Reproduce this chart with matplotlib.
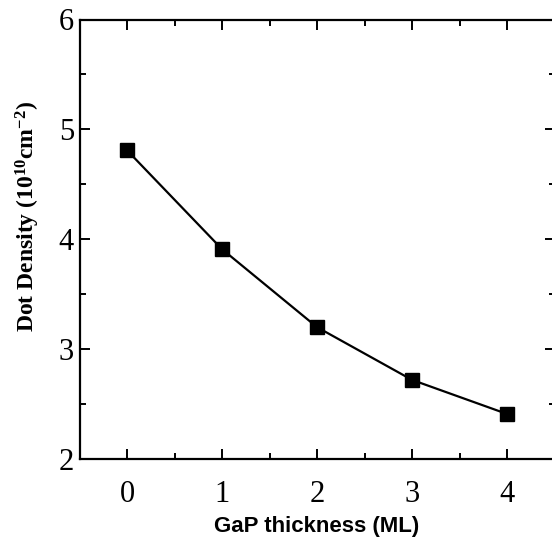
import matplotlib
matplotlib.use("Agg")
from matplotlib import pyplot as plt
from matplotlib.ticker import MultipleLocator

# data
gap_thickness = [0, 1, 2, 3, 4]          # ML
dot_density = [4.81, 3.91, 3.20, 2.72, 2.41]  # 10^10 cm^-2

x_ticks = [0, 1, 2, 3, 4]
y_ticks = [2, 3, 4, 5, 6]

plt.rcParams["mathtext.fontset"] = "custom"
plt.rcParams["mathtext.rm"] = "Liberation Serif:bold"
plt.rcParams["mathtext.default"] = "rm"

fig = plt.figure(figsize=(5.52, 5.49), dpi=100)
# right spine runs just past the picture edge, as in the scan
ax = fig.add_axes([79.5 / 552, 90 / 549, 475 / 552, 439.5 / 549])

ax.plot(gap_thickness, dot_density, color="black", lw=1.6,
        marker="s", markersize=10.3, markerfacecolor="black",
        markeredgecolor="black")

ax.set_xlim(-0.5, 4.5)
ax.set_ylim(2, 6)
ax.set_xticks(x_ticks)
ax.set_yticks(y_ticks)
ax.xaxis.set_minor_locator(MultipleLocator(0.5))
ax.yaxis.set_minor_locator(MultipleLocator(0.5))

for s in ax.spines.values():
    s.set_linewidth(1.6)

ax.tick_params(which="both", direction="in", top=True, right=True, width=1.4)
ax.tick_params(which="major", length=7)
ax.tick_params(which="minor", length=4)
ax.tick_params(axis="x", which="major", pad=15)
ax.tick_params(axis="y", which="major", pad=4)

for lab in ax.get_xticklabels() + ax.get_yticklabels():
    lab.set_fontfamily("Liberation Serif")
    lab.set_fontsize(22)

ax.set_xlabel("GaP thickness (ML)", fontsize=16, fontweight="bold",
              family=["Liberation Sans Narrow", "Liberation Sans"])
ax.xaxis.set_label_coords(0.5, -0.13)

ax.set_ylabel("Dot Density (10$^{10}$cm$^{-2}$)", fontsize=17,
              fontweight="bold", family="Liberation Serif")
ax.yaxis.set_label_coords(-0.079, 0.552)

fig.savefig("out.png", dpi=100)
